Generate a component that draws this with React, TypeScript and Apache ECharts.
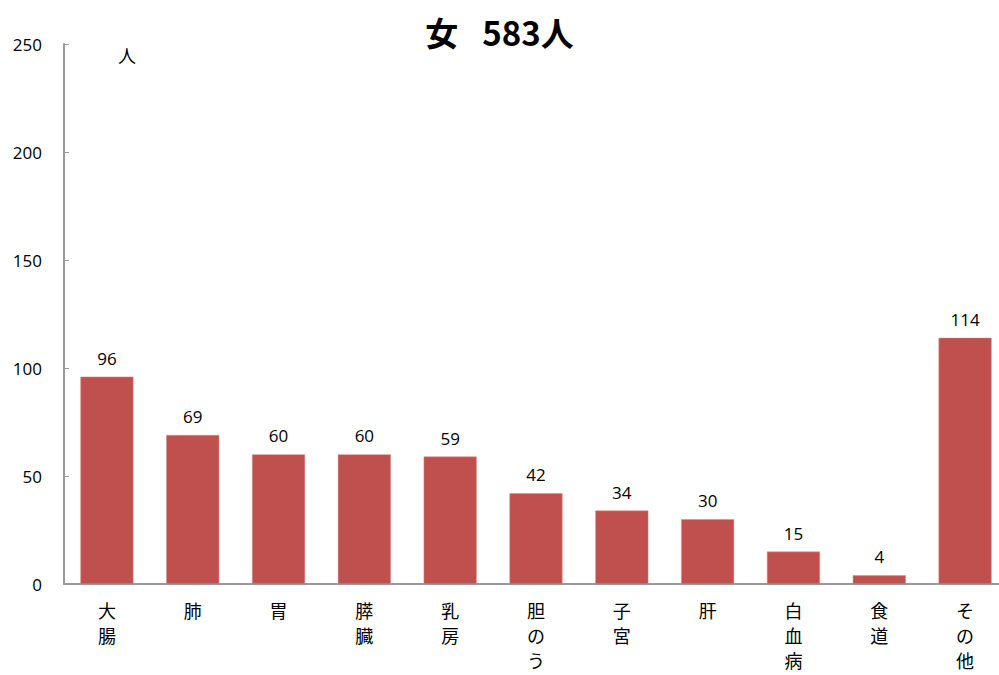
import React, { useEffect, useRef } from "react";
import * as echarts from "echarts";

const categories = ["大腸", "肺", "胃", "膵臓", "乳房", "胆のう", "子宮", "肝", "白血病", "食道", "その他"];
const values = [96, 69, 60, 60, 59, 42, 34, 30, 15, 4, 114];
const yTicks = [0, 50, 100, 150, 200, 250];
const titleSex = "女";
const titleCount = "583人";
const unitText = "人";

const FONT = "'Open Sans', 'Noto Sans CJK JP', sans-serif";
const JP = "'Noto Sans CJK JP', sans-serif";

export default function App() {
  const ref = useRef<HTMLDivElement>(null);
  useEffect(() => {
    if (!ref.current) return;
    const chart = echarts.init(ref.current, undefined, { renderer: "svg" });
    chart.setOption({
      animation: false,
      title: {
        text: `{a|${titleSex}}{s|　}{a|${titleCount}}`,
        left: "center",
        top: 10,
        textStyle: {
          rich: {
            a: { fontSize: 33, fontWeight: "bold", color: "#000", fontFamily: JP },
            s: { fontSize: 24, fontFamily: JP },
          },
        },
      },
      graphic: [
        {
          type: "text",
          left: 118,
          top: 46,
          style: { text: unitText, fontSize: 18, fill: "#000", fontFamily: JP },
        },
      ],
      grid: { left: 64, right: -9, top: 44, bottom: 91, containLabel: false, outerBoundsMode: "none" },
      xAxis: {
        type: "category",
        data: categories,
        axisLine: { lineStyle: { color: "#9a9a9a", width: 2 } },
        axisTick: { show: false },
        axisLabel: {
          interval: 0,
          margin: 13,
          fontSize: 18,
          lineHeight: 25,
          color: "#000",
          fontFamily: JP,
          formatter: (v: string) => v.split("").join("\n"),
        },
      },
      yAxis: {
        type: "value",
        min: yTicks[0],
        max: yTicks[yTicks.length - 1],
        interval: 50,
        splitLine: { show: false },
        axisLine: { show: true, lineStyle: { color: "#9a9a9a", width: 2 } },
        axisTick: { show: true, inside: true, length: 5, lineStyle: { color: "#9a9a9a", width: 1 } },
        axisLabel: { margin: 22, fontSize: 17, color: "#000", fontFamily: FONT },
      },
      series: [
        {
          type: "bar",
          data: values,
          barWidth: 53,
          itemStyle: { color: "#C0504D", borderColor: "#d98a88", borderWidth: 0.5 },
          label: {
            show: true,
            position: "top",
            distance: 10,
            fontSize: 17,
            color: "#000",
            fontFamily: FONT,
          },
        },
      ],
    });
    return () => chart.dispose();
  }, []);
  return <div ref={ref} style={{ width: 999, height: 675, position: "absolute", left: 0, top: 0 }} />;
}
